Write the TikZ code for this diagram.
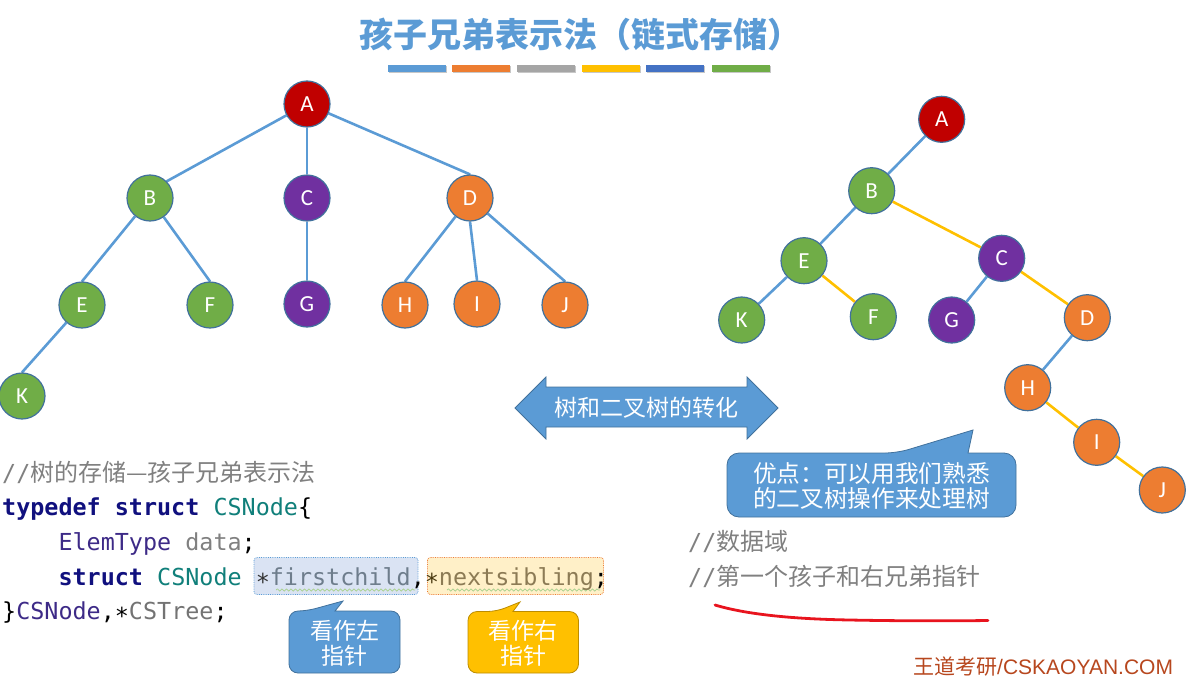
\documentclass[tikz,border=0pt]{standalone}
\usepackage{fontspec}
\setmainfont{Carlito}
\setmonofont{DejaVu Sans Mono}
\newfontfamily\cjk{Noto Sans CJK SC}
\newfontfamily\lib{Liberation Sans}
\usetikzlibrary{decorations.pathmorphing,backgrounds}
\definecolor{cblue}{HTML}{5B9BD5}
\definecolor{corange}{HTML}{ED7D31}
\definecolor{cgray}{HTML}{A5A5A5}
\definecolor{cyellow}{HTML}{FFC000}
\definecolor{cdblue}{HTML}{4472C4}
\definecolor{cgreen}{HTML}{70AD47}
\definecolor{cred}{HTML}{C00000}
\definecolor{cpurple}{HTML}{7030A0}
\definecolor{cborder}{HTML}{41719C}
\definecolor{yborder}{HTML}{BC8C00}
\definecolor{kwnavy}{HTML}{10107E}
\definecolor{tyteal}{HTML}{107F7A}
\definecolor{typurple}{HTML}{3D2A87}
\definecolor{cmtgray}{HTML}{808080}
\definecolor{fcfill}{HTML}{DAE3F3}
\definecolor{nsfill}{HTML}{FFF0C8}
\definecolor{fctext}{HTML}{6E7D8C}
\definecolor{nstext}{HTML}{8C7B55}
\definecolor{stardark}{HTML}{333333}
\definecolor{nsstar}{HTML}{4A3A10}
\definecolor{sqgreen}{HTML}{A9D18E}
\definecolor{inkred}{HTML}{E8141E}
\definecolor{wmcol}{HTML}{B7471E}
\newcommand\zh[1]{{\cjk\fontsize{24}{28}\selectfont #1}}
\newcommand\cstar{\raisebox{-5pt}{*}}
\begin{document}
\begin{tikzpicture}[x=1pt,y=-1pt,
  tnode/.style={circle, draw=cborder, line width=1.2pt, minimum size=46pt, inner sep=0pt,
    text=white, font=\fontsize{23}{23}\selectfont},
  rednode/.style={tnode, fill=cred},
  grnnode/.style={tnode, fill=cgreen},
  purnode/.style={tnode, fill=cpurple},
  orgnode/.style={tnode, fill=corange},
  bedge/.style={draw=cblue, line width=2.6pt},
  yedge/.style={draw=cyellow, line width=2.6pt},
  code/.style={anchor=base west, inner sep=0pt, font=\ttfamily\fontsize{23.4}{28}\selectfont},
  zhw/.style={text=white, align=center, inner sep=0pt, font=\cjk\fontsize{23}{25}\selectfont},
  callout/.style={fill=cblue, draw=cborder, line width=0.8pt},
  ycallout/.style={fill=cyellow, draw=yborder, line width=0.8pt},
  squig/.style={draw=sqgreen, line width=0.7pt, decorate, decoration={snake, amplitude=1.1pt, segment length=4.5pt}}
]
\useasboundingbox (0,0) rectangle (1190,677);

% title and colour bars
\node[font=\cjk\bfseries\fontsize{34}{34}\selectfont, text=cblue] (title) at (580,34) {孩子兄弟表示法（链式存储）};
\foreach \x/\c in {388/cblue,452/corange,517/cgray,582/cyellow,646/cdblue,712/cgreen}{
  \fill[black!22] (\x+1,66) rectangle ++(58,7);
  \fill[\c] (\x,65) rectangle ++(58,7);
}

% left tree
\node[rednode] (A) at (307,104) {A};
\node[grnnode] (B) at (150,198) {B};
\node[purnode] (C) at (307,198) {C};
\node[orgnode] (D) at (470,198) {D};
\node[grnnode] (E) at (82,305) {E};
\node[grnnode] (F) at (210,305) {F};
\node[purnode] (G) at (307,304) {G};
\node[orgnode] (H) at (405,305) {H};
\node[orgnode] (I) at (477,304) {I};
\node[orgnode] (J) at (565,305) {J};
\node[grnnode] (K) at (22,396) {K};
\begin{scope}[on background layer]
  \draw[bedge] (A) -- (B.north east);
  \draw[bedge] (A) -- (C);
  \draw[bedge] (A) -- (D.north);
  \draw[bedge] (B) -- (E.north);
  \draw[bedge] (B) -- (F.north);
  \draw[bedge] (C) -- (G);
  \draw[bedge] (D) -- (H.north);
  \draw[bedge] (D.south) -- (I.north);
  \draw[bedge] (D) -- (J.north);
  \draw[bedge] (E) -- (K.north);
\end{scope}

% right (binary) tree
\node[rednode] (rA) at (941.7,119.3) {A};
\node[grnnode] (rB) at (871.7,190.7) {B};
\node[grnnode] (rE) at (804,260.7) {E};
\node[grnnode] (rK) at (741.7,320) {K};
\node[grnnode] (rF) at (873.3,316.7) {F};
\node[purnode] (rC) at (1001.7,258.3) {C};
\node[purnode] (rG) at (951.7,320) {G};
\node[orgnode] (rD) at (1087.3,317.7) {D};
\node[orgnode] (rH) at (1027.7,387.7) {H};
\node[orgnode] (rI) at (1096.7,442.3) {I};
\node[orgnode] (rJ) at (1162.3,490) {J};
\begin{scope}[on background layer]
  \draw[bedge] (rA) -- (rB);
  \draw[bedge] (rB) -- (rE);
  \draw[bedge] (rE) -- (rK);
  \draw[bedge] (rC) -- (rG);
  \draw[bedge] (rD) -- (rH);
  \draw[yedge] (rB) -- (rC);
  \draw[yedge] (rE) -- (rF);
  \draw[yedge] (rC) -- (rD);
  \draw[yedge] (rH) -- (rI);
  \draw[yedge] (rI) -- (rJ);
\end{scope}

% double arrow
\draw[callout] (515,408) -- (546,377) -- (546,387) -- (747,387) -- (747,377) -- (778,408)
  -- (747,439) -- (747,427) -- (546,427) -- (546,439) -- cycle;
\node[zhw] (conv) at (646.5,408) {树和二叉树的转化};

% advantage callout
\draw[callout] (727,485) [rounded corners=12] |- (897,453) [sharp corners] -- (973,430) -- (968,453)
  [rounded corners=12] -| (1016,517) -| (727,485) -- cycle;
\node[zhw, font=\cjk\fontsize{23.7}{25}\selectfont] (adv) at (871.5,485.8) {优点：可以用我们熟悉\\的二叉树操作来处理树};

% code highlights
\draw[fill=fcfill, draw=cblue, densely dotted, line width=0.8pt, rounded corners=3] (254,557.5) rectangle (418,594.5);
\draw[fill=nsfill, draw=corange, densely dotted, line width=0.8pt, rounded corners=3] (427.5,557.5) rectangle (603.5,594.5);
\draw[squig] (276,590) -- (415,590);
\draw[squig] (447,590) -- (600,590);

% code
\node[code, text=cmtgray] (c1) at (2,481) {//\zh{树的存储—孩子兄弟表示法}};
\node[code] (c2) at (2,515.5) {\textcolor{kwnavy}{\bfseries typedef struct} \textcolor{tyteal}{CSNode}\{};
\node[code] (c3) at (58.35,550.5) {\textcolor{typurple}{ElemType} \textcolor{cmtgray}{data};};
\node[code] (c4) at (58.35,585) {\textcolor{kwnavy}{\bfseries struct} \textcolor{tyteal}{CSNode} \textcolor{stardark}{\cstar}\textcolor{fctext}{firstchild},\textcolor{nsstar}{\cstar}\textcolor{nstext}{nextsibling};};
\node[code] (c5) at (2,619) {\}\textcolor{typurple}{CSNode},\cstar\textcolor{cmtgray!90!black}{CSTree};};
\node[code, text=cmtgray] (c3r) at (688,550.5) {//\zh{数据域}};
\node[code, text=cmtgray] (c4r) at (688,585) {//\zh{第一个孩子和右兄弟指针}};

% pointer callouts
\draw[callout] (289,640) [rounded corners=9] |- (306.5,611) [sharp corners] -- (343,601) -- (335,611)
  [rounded corners=9] -| (400,673) -| (289,640) -- cycle;
\node[zhw] (lcall) at (344.5,643) {看作左\\指针};
\draw[ycallout] (468,640) [rounded corners=9] |- (496.5,611.5) [sharp corners] -- (520,602) -- (513,611.5)
  [rounded corners=9] -| (578.5,673) -| (468,640) -- cycle;
\node[zhw] (rcall) at (523,643) {看作右\\指针};

% red ink underline
\draw[inkred, line width=2.8pt, line cap=round] (715,605) .. controls (745,614) and (790,619) .. (850,620)
  .. controls (900,621) and (950,621) .. (988,620.5);

% watermark
\node[anchor=base west, inner sep=0pt, text=wmcol, font=\fontsize{21}{21}\selectfont] (wm) at (913,674)
  {{\cjk 王道考研}{\lib /CSKAOYAN.COM}};
\end{tikzpicture}
\end{document}
